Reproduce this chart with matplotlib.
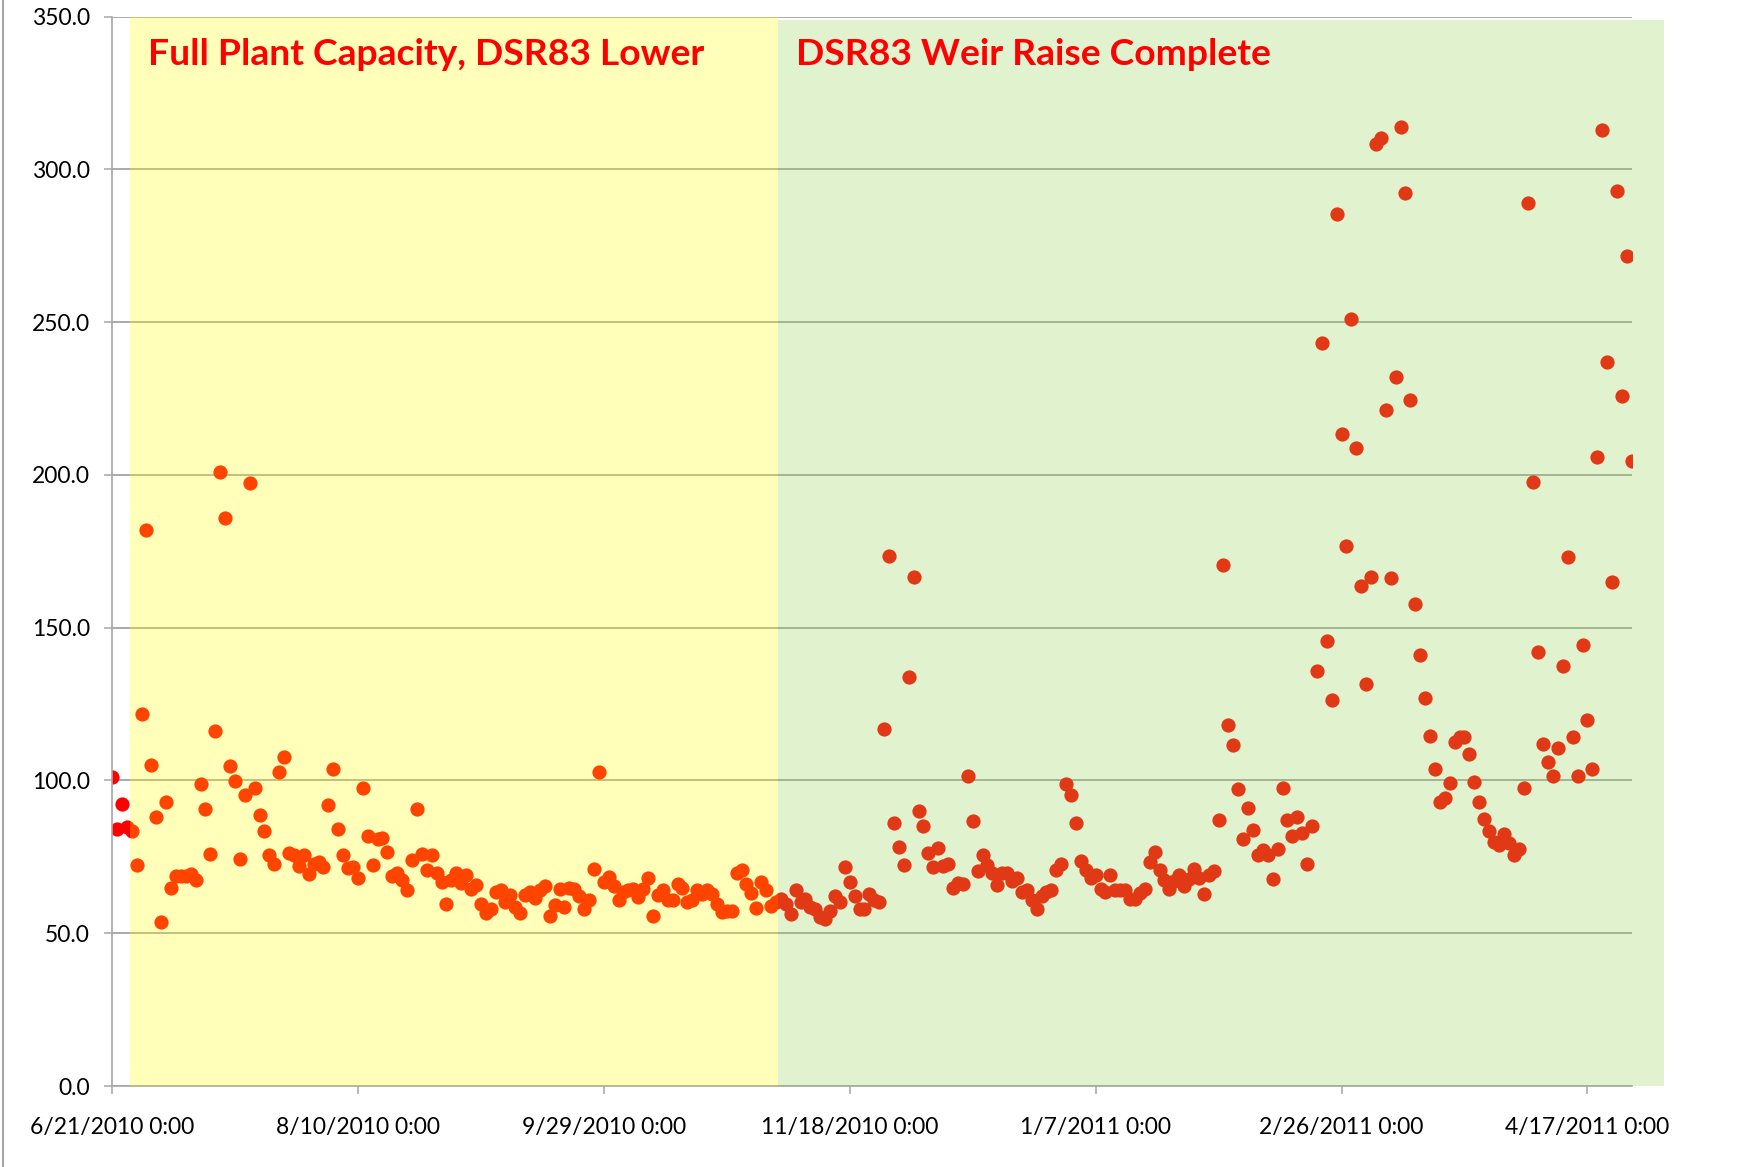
import numpy as np
import pandas as pd
import matplotlib
matplotlib.use('Agg')
import matplotlib.pyplot as plt
import matplotlib.dates as mdates
from matplotlib.patches import Rectangle
from matplotlib.lines import Line2D
from matplotlib.ticker import FormatStrFormatter

# daily readings from 6/21/2010
start_date = '2010-06-21'
values = [
    101.0, 84.2, 92.2, 84.7, 83.4, 72.4, 121.7, 182.1, 105.2, 88.2,
    53.7, 92.9, 64.7, 68.6, 68.6, 68.6, 69.3, 67.5, 98.7, 90.6,
    76.0, 116.3, 201.0, 186.0, 104.7, 99.7, 74.4, 95.4, 197.2, 97.4,
    88.7, 83.4, 75.7, 72.6, 102.7, 107.7, 76.4, 75.6, 71.9, 75.6,
    69.3, 72.6, 73.3, 71.7, 91.9, 103.6, 84.2, 75.7, 71.3, 71.7,
    68.2, 97.6, 81.7, 72.2, 80.8, 81.2, 76.6, 68.7, 69.8, 67.5,
    64.3, 73.9, 90.7, 76.0, 70.6, 75.7, 69.7, 66.8, 59.7, 67.5,
    69.7, 66.5, 69.0, 64.6, 65.7, 59.7, 56.6, 58.0, 63.5, 64.1,
    60.2, 62.4, 58.6, 56.6, 62.4, 63.5, 61.6, 64.1, 65.4, 55.6,
    59.4, 64.6, 58.6, 64.9, 64.6, 62.1, 57.8, 60.8, 71.1, 102.9,
    66.8, 68.4, 65.4, 61.0, 63.5, 64.1, 64.6, 61.9, 64.6, 68.2,
    55.6, 62.4, 64.1, 61.0, 60.8, 66.2, 64.9, 60.2, 61.0, 64.1,
    63.0, 64.3, 62.7, 59.7, 57.0, 57.3, 57.3, 69.7, 70.6, 66.2,
    63.2, 58.3, 66.8, 64.3, 58.8, 60.2, 61.3, 59.7, 56.4, 64.3,
    60.2, 61.3, 58.6, 58.0, 55.3, 54.8, 57.3, 62.1, 60.2, 71.7,
    66.8, 62.1, 57.8, 57.8, 62.7, 60.8, 60.2, 116.7, 173.4, 86.2,
    78.2, 72.2, 133.9, 166.7, 89.9, 85.0, 76.2, 71.7, 78.0, 71.9,
    72.6, 64.9, 66.5, 66.2, 101.4, 86.7, 70.3, 75.7, 72.2, 69.7,
    65.7, 69.7, 69.7, 67.1, 68.2, 63.5, 64.3, 60.8, 58.0, 62.1,
    63.5, 64.1, 70.6, 72.6, 98.9, 95.3, 86.2, 73.6, 70.6, 68.2,
    69.0, 64.6, 63.5, 69.0, 64.3, 64.3, 64.3, 61.3, 61.3, 63.2,
    64.6, 73.3, 76.6, 70.6, 67.5, 64.6, 67.1, 69.0, 65.4, 67.8,
    71.1, 68.2, 62.7, 69.0, 70.3, 87.1, 170.6, 118.2, 111.7, 97.1,
    80.9, 91.0, 83.7, 75.6, 77.4, 75.6, 67.8, 77.7, 97.6, 87.1,
    81.8, 88.0, 82.8, 72.8, 85.0, 135.7, 243.3, 145.6, 126.2, 285.4,
    213.5, 176.8, 250.9, 208.7, 163.6, 131.7, 166.7, 308.3, 310.1, 221.1,
    166.2, 232.0, 313.7, 292.3, 224.4, 157.8, 141.1, 127.1, 114.6, 103.8,
    93.1, 94.3, 99.1, 112.5, 114.2, 114.2, 108.7, 99.4, 93.1, 87.5,
    83.4, 79.8, 78.8, 82.6, 79.4, 75.6, 77.7, 97.5, 289.0, 197.7,
    142.2, 112.0, 106.2, 101.6, 110.7, 137.6, 173.2, 114.3, 101.4, 144.4,
    119.9, 103.6, 206.0, 313.0, 237.1, 164.8, 293.0, 225.9, 271.6, 204.7,
]

# shaded periods (days from start) and their labels
phase_labels = ['Full Plant Capacity, DSR83 Lower', 'DSR83 Weir Raise Complete']
phase_start = [3.66, 135.5]
phase_end = [135.5, 315.6]
phase_colors = ['#FFFF00', '#92D050']

dates = pd.date_range(start_date, periods=len(values), freq='D')
d0 = mdates.date2num(dates[0])

fig = plt.figure(figsize=(17.39, 11.67), dpi=100)
ax = fig.add_axes([0.0644, 0.0694, 0.8739, 0.9164])

ax.scatter(dates, values, s=105, color='#FF0000', linewidths=0, zorder=2)

# semi-transparent shapes drawn over the plot
for i in range(2):
    top = 350 if i == 0 else 348.8
    rect = Rectangle((d0 + phase_start[i], 0), phase_end[i] - phase_start[i], top,
                     facecolor=phase_colors[i], alpha=0.27, lw=0, zorder=3,
                     clip_on=False)
    ax.add_patch(rect)
    ax.text(d0 + phase_start[i] + 3.6, 334.2, phase_labels[i], color='#FF0000',
            fontsize=26.8, fontweight='bold', family='Lato', zorder=5)

ax.set_xlim(dates[0], dates[-1])
ax.set_ylim(0, 350)

ticks = pd.date_range(start_date, dates[-1], freq='50D')
ax.set_xticks(ticks)
ax.set_xticklabels([f'{t.month}/{t.day}/{t.year} 0:00' for t in ticks])
ax.set_yticks(np.arange(0, 351, 50))
ax.yaxis.set_major_formatter(FormatStrFormatter('%.1f'))

for lab in ax.get_xticklabels() + ax.get_yticklabels():
    lab.set_family('Lato')
ax.tick_params(axis='both', direction='out', length=6, width=1.1,
               color='#A6A6A6', labelsize=16.5, labelcolor='black')
ax.tick_params(axis='y', pad=10)
ax.tick_params(axis='x', pad=16)

ax.yaxis.grid(True, color='#9C9C9C', lw=1.2)
ax.set_axisbelow(True)
for side in ['top', 'right']:
    ax.spines[side].set_visible(False)
for side in ['left', 'bottom']:
    ax.spines[side].set_color('#A6A6A6')
    ax.spines[side].set_linewidth(1.2)

fig.add_artist(Line2D([3 / 1739, 3 / 1739], [0, 1], color='#A6A6A6', lw=1.5))

fig.savefig('out.png', dpi=100)
